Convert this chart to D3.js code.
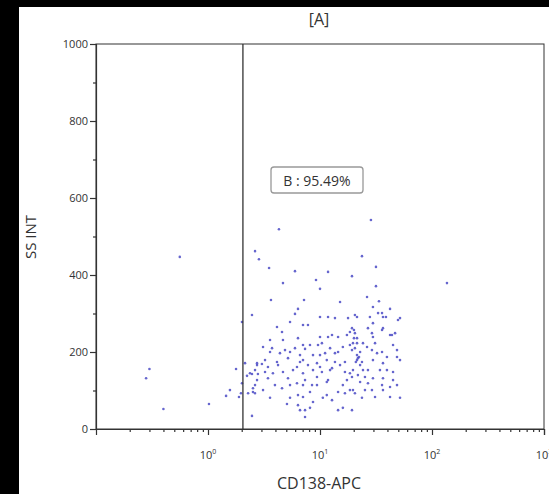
<!DOCTYPE html>
<html>
<head>
<meta charset="utf-8">
<script src="https://cdn.jsdelivr.net/npm/d3@7"></script>
<style>
  html, body { margin: 0; padding: 0; background: #000; }
  text { font-family: "Open Sans", "DejaVu Sans", sans-serif; }
</style>
</head>
<body>
<div id="chart"></div>
<script>
// DATA

var title = "[A]";
var xLabel = "CD138-APC";
var yLabel = "SS INT";
var gateLabel = "B : 95.49%";
var gateAt = 2.05;

var yTicks = [0, 200, 400, 600, 800, 1000];
var yMinor = [100, 300, 500, 700, 900];
var xDecades = [1, 10, 100, 1000];
var xDecadeExp = ["0", "1", "2", "3"];

// events: CD138-APC intensity and side scatter
var cd138 = [0.56, 0.30, 0.28, 0.40, 1.02, 1.45, 1.57, 1.89, 1.78, 2.01,
  2.14, 2.23, 2.47, 2.79, 2.63, 2.52, 2.28, 2.63, 2.47, 2.47,
  2.74, 2.01, 1.97, 4.30, 28.5, 136, 2.63, 2.85, 3.51, 5.98,
  11.8, 19.3, 23.7, 31.6, 4.67, 9.21, 10.0, 31.6, 3.65, 7.20,
  15.1, 26.3, 33.6, 29.7, 42.2, 35.8, 38.8, 51.8, 6.36, 5.98,
  10.0, 11.8, 13.6, 17.8, 20.5, 21.4, 27.9, 33.0, 36.5, 49.7,
  29.7, 5.40, 7.05, 4.13, 7.81, 4.58, 12.8, 18.5, 10.0, 11.8,
  14.5, 17.4, 6.36, 3.58, 4.67, 21.4, 19.3, 26.8, 36.5, 42.2,
  46.8, 20.5, 29.1, 3.10, 3.73, 4.87, 5.98, 7.05, 8.14, 9.60,
  10.4, 12.3, 14.5, 16.0, 18.5, 20.5, 3.58, 4.39, 5.40, 11.1,
  13.6, 19.7, 24.2, 31.0, 44.9, 19.3, 21.4, 22.8, 29.1, 32.3,
  35.8, 39.6, 48.7, 2.74, 3.23, 4.13, 5.18, 6.63, 7.05, 9.40,
  11.5, 13.6, 16.7, 21.4, 21.8, 23.7, 29.7, 36.5, 51.8, 2.63,
  3.43, 4.22, 6.23, 7.81, 10.0, 12.8, 15.1, 2.37, 3.23, 3.80,
  4.67, 5.74, 7.05, 8.66, 10.4, 12.3, 16.7, 18.5, 19.7, 24.2,
  26.8, 34.3, 39.6, 44.9, 2.74, 3.43, 5.18, 7.35, 9.40, 11.8,
  17.4, 19.3, 21.8, 25.2, 29.7, 36.5, 44.9, 22.8, 26.8, 35.8,
  42.2, 48.7, 3.10, 4.58, 6.23, 7.05, 8.49, 9.40, 11.5, 16.0,
  18.5, 19.7, 25.2, 29.1, 36.5, 2.52, 3.58, 5.40, 6.36, 7.05,
  8.66, 11.5, 12.8, 16.7, 20.5, 23.7, 31.0, 42.2, 51.8, 6.36,
  7.35, 8.14, 16.0, 6.63, 7.35, 19.3, 20.1, 20.1, 21.4, 26.3,
  29.7, 35.8, 43.9, 48.7, 20.9, 22.8, 22.3, 6.63, 8.66, 10.0,
  7.35, 3.03, 3.96, 5.40, 8.14, 14.5, 10.6, 5.07, 14.5];

var ssInt = [447, 156, 132, 52, 65, 86, 101, 83, 156, 278,
  171, 138, 143, 143, 114, 106, 93, 93, 34, 296,
  166, 119, 93, 519, 543, 379, 462, 441, 418, 410,
  408, 397, 449, 421, 379, 387, 364, 371, 335, 335,
  330, 343, 332, 317, 312, 301, 291, 288, 312, 299,
  291, 291, 288, 288, 296, 291, 291, 301, 291, 283,
  275, 278, 270, 265, 270, 252, 244, 252, 239, 239,
  239, 244, 236, 231, 231, 236, 262, 262, 262, 244,
  249, 249, 249, 213, 210, 205, 210, 218, 218, 218,
  223, 210, 200, 213, 218, 210, 200, 197, 200, 197,
  197, 223, 223, 223, 218, 205, 192, 200, 205, 197,
  200, 187, 187, 171, 179, 174, 184, 174, 179, 171,
  179, 174, 174, 179, 184, 174, 179, 171, 179, 153,
  161, 166, 161, 166, 161, 158, 166, 145, 148, 145,
  148, 153, 145, 153, 148, 153, 148, 145, 153, 153,
  153, 153, 153, 148, 127, 132, 132, 127, 135, 127,
  127, 135, 140, 135, 132, 132, 127, 122, 119, 114,
  109, 114, 101, 106, 119, 114, 114, 114, 122, 114,
  101, 101, 101, 101, 101, 96, 81, 81, 88, 83,
  70, 88, 75, 93, 93, 81, 83, 83, 81, 62,
  49, 55, 55, 49, 31, 49, 257, 236, 223, 213,
  239, 257, 244, 205, 174, 166, 187, 192, 192, 192,
  208, 169, 114, 114, 96, 96, 81, 65, 49];

// LAYOUT

var W = 549, H = 494;
var plotL = 96, plotR = 544, plotT = 44, plotB = 429;

var svg = d3.select("#chart")
    .append("svg")
    .attr("width", W)
    .attr("height", H);

svg.append("rect").attr("width", W).attr("height", H).attr("fill", "#000");
svg.append("rect").attr("x", 19).attr("y", 7)
    .attr("width", W - 19).attr("height", H - 7).attr("fill", "#fff");

var x = d3.scaleLog().domain([0.1, 1000]).range([plotL, plotR]);
var y = d3.scaleLinear().domain([0, 1000]).range([plotB, plotT]);

// frame
svg.append("rect")
    .attr("x", plotL).attr("y", plotT)
    .attr("width", plotR - plotL).attr("height", plotB - plotT)
    .attr("fill", "none").attr("stroke", "#333").attr("stroke-width", 1);

// points
var points = cd138.map(function (v, i) { return { x: v, y: ssInt[i] }; });

svg.append("g")
    .selectAll("circle")
    .data(points)
    .enter()
    .append("circle")
    .attr("cx", function (d) { return x(d.x); })
    .attr("cy", function (d) { return y(d.y); })
    .attr("r", 1.3)
    .style("fill", "#4b4bc6")
    .style("opacity", 0.85);

// gate line
svg.append("line")
    .attr("x1", x(gateAt)).attr("x2", x(gateAt))
    .attr("y1", plotT).attr("y2", plotB)
    .attr("stroke", "#333").attr("stroke-width", 1.3);

// y axis
var yAxis = svg.append("g")
    .attr("transform", "translate(" + plotL + ",0)")
    .call(d3.axisLeft(y).tickValues(yTicks).tickSize(6).tickPadding(2)
        .tickFormat(d3.format("d")));
svg.append("g")
    .attr("transform", "translate(" + plotL + ",0)")
    .call(d3.axisLeft(y).tickValues(yMinor).tickSize(3).tickFormat(""))
    .select(".domain").remove();

// x axis
var minor = [];
[0.1, 1, 10, 100].forEach(function (b) {
    for (var k = 2; k <= 9; k++) minor.push(b * k);
});

svg.append("g")
    .attr("transform", "translate(0," + plotB + ")")
    .call(d3.axisBottom(x).tickValues(xDecades).tickSize(6).tickFormat(""));
svg.append("g")
    .attr("transform", "translate(0," + plotB + ")")
    .call(d3.axisBottom(x).tickValues(minor).tickSize(3).tickFormat(""))
    .select(".domain").remove();

svg.selectAll(".domain, .tick line").attr("stroke", "#333").attr("stroke-width", 1.2);
yAxis.selectAll("text").attr("fill", "#333").style("font-size", "11px");

// decade labels 10^n
var lbl = svg.append("g").selectAll("text")
    .data(xDecades)
    .enter()
    .append("text")
    .attr("x", function (d) { return x(d); })
    .attr("y", 459)
    .attr("text-anchor", "middle")
    .attr("fill", "#333")
    .style("font-size", "11px");
lbl.append("tspan").text("10");
lbl.append("tspan")
    .attr("dy", -5)
    .style("font-size", "7px")
    .text(function (d, i) { return xDecadeExp[i]; });

// titles
svg.append("text")
    .attr("x", 319).attr("y", 25)
    .attr("text-anchor", "middle")
    .attr("fill", "#333")
    .style("font-size", "16px")
    .text(title);

svg.append("text")
    .attr("x", 319).attr("y", 489)
    .attr("text-anchor", "middle")
    .attr("fill", "#333")
    .style("font-size", "16px")
    .text(xLabel);

svg.append("text")
    .attr("transform", "translate(36,237) rotate(-90)")
    .attr("text-anchor", "middle")
    .attr("fill", "#333")
    .style("font-size", "15px")
    .text(yLabel);

// gate label box
svg.append("rect")
    .attr("x", 271).attr("y", 167)
    .attr("width", 92).attr("height", 26)
    .attr("rx", 3)
    .attr("fill", "#fff")
    .attr("stroke", "#999")
    .attr("stroke-width", 1.3);

svg.append("text")
    .attr("x", 317).attr("y", 186)
    .attr("text-anchor", "middle")
    .attr("fill", "#333")
    .style("font-size", "14px")
    .text(gateLabel);
</script>
</body>
</html>
